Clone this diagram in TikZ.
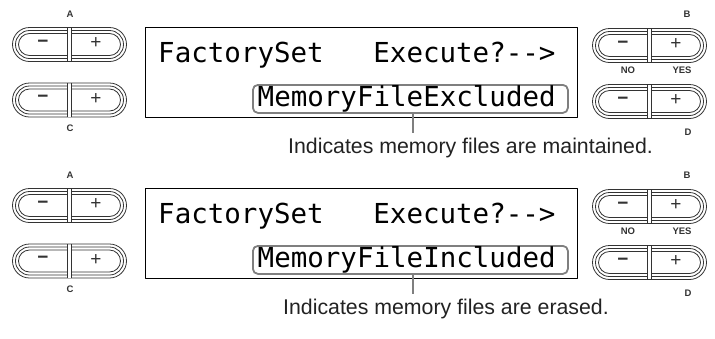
\documentclass[tikz,border=0pt]{standalone}
\usepackage{fontspec}
\setmainfont{Liberation Sans}
\newfontfamily\lcdfont{DejaVu Sans Mono}
\definecolor{btngray}{HTML}{333333}
\definecolor{callgray}{HTML}{7F7F7F}
\definecolor{captext}{HTML}{222222}
\tikzset{
  btnline/.style={draw=btngray, line width=0.8pt},
  btnlbl/.style={font=\fontsize{9.5}{9.5}\selectfont\bfseries, text=btngray, inner sep=0pt},
  keysym/.style={font=\fontsize{19}{19}\selectfont, text=btngray, inner sep=0pt},
  lcdtext/.style={font=\lcdfont\fontsize{27.5}{27.5}\selectfont, anchor=base west, inner sep=0pt},
  lcdbox/.style={draw=black, line width=1pt, inner sep=0pt},
  hilite/.style={draw=callgray, line width=1.8pt, rounded corners=5pt, inner sep=0pt},
  leader/.style={draw=callgray, line width=1.8pt},
  captionstyle/.style={font=\fontsize{21.3}{21.3}\selectfont, anchor=base west, inner sep=0pt, text=captext},
  pics/pillbtn/.style={code={
    \draw[btnline, rounded corners=17pt] (-57,-17) rectangle (57,17);
    \draw[btnline, rounded corners=14pt] (-54,-14) rectangle (54,14);
    \draw[btnline, rounded corners=11pt] (-51,-11) rectangle (51,11);
    \fill[white] (-1.8,-16.5) rectangle (1.8,16.5);
    \draw[btnline] (-1.8,-16.6) -- (-1.8,16.6);
    \draw[btnline] (1.8,-16.6) -- (1.8,16.6);
    \node[keysym, font=\fontsize{19}{19}\selectfont\bfseries] (-minus) at (-26.5,-1) {−};
    \node[keysym] (-plus) at (26.5,-1) {+};
  }}
}
\newcommand\drawpanel[5]{%
  \begin{scope}[shift={(0,#2)}]
    % left buttons
    \node[btnlbl] (#1lblA) at (70,14) {A};
    \pic (#1btnA) at (69.5,44.5) {pillbtn};
    \pic (#1btnC) at (69.5,100) {pillbtn};
    \node[btnlbl] (#1lblC) at (70,128) {C};
    % right buttons
    \node[btnlbl] (#1lblB) at (687,14) {B};
    \pic (#1btnB) at (649.5,45.5) {pillbtn};
    \node[btnlbl] (#1lblNO) at (628,70) {NO};
    \node[btnlbl] (#1lblYES) at (682,70) {YES};
    \pic (#1btnD) at (649.5,101.5) {pillbtn};
    \node[btnlbl] (#1lblD) at (688,132) {D};
    % LCD
    \node[lcdbox, minimum width=432pt, minimum height=90pt, anchor=north west] (#1lcd) at (145,27) {};
    \node[lcdtext] (#1row1) at (158,62) {FactorySet\ \ \ Execute?-{}-{}>};
    \node[hilite, minimum width=315pt, minimum height=28pt, anchor=north west] (#1hl) at (252,84) {};
    \node[lcdtext] (#1row2) at (257.5,106) {#3};
    \coordinate (#1tip) at (413,133);
    \draw[leader] (#1hl.south -| #1tip) -- (#1tip);
    \node[captionstyle] (#1cap) at (#5,153) {#4};
  \end{scope}}
\begin{document}
\begin{tikzpicture}[x=1pt, y=-1pt, line join=round]
  \useasboundingbox (0,0) rectangle (715,338);
  \drawpanel{u}{0}{MemoryFileExcluded}{Indicates memory files are maintained.}{288}
  \drawpanel{l}{161}{MemoryFileIncluded}{Indicates memory files are erased.}{283}
\end{tikzpicture}
\end{document}
